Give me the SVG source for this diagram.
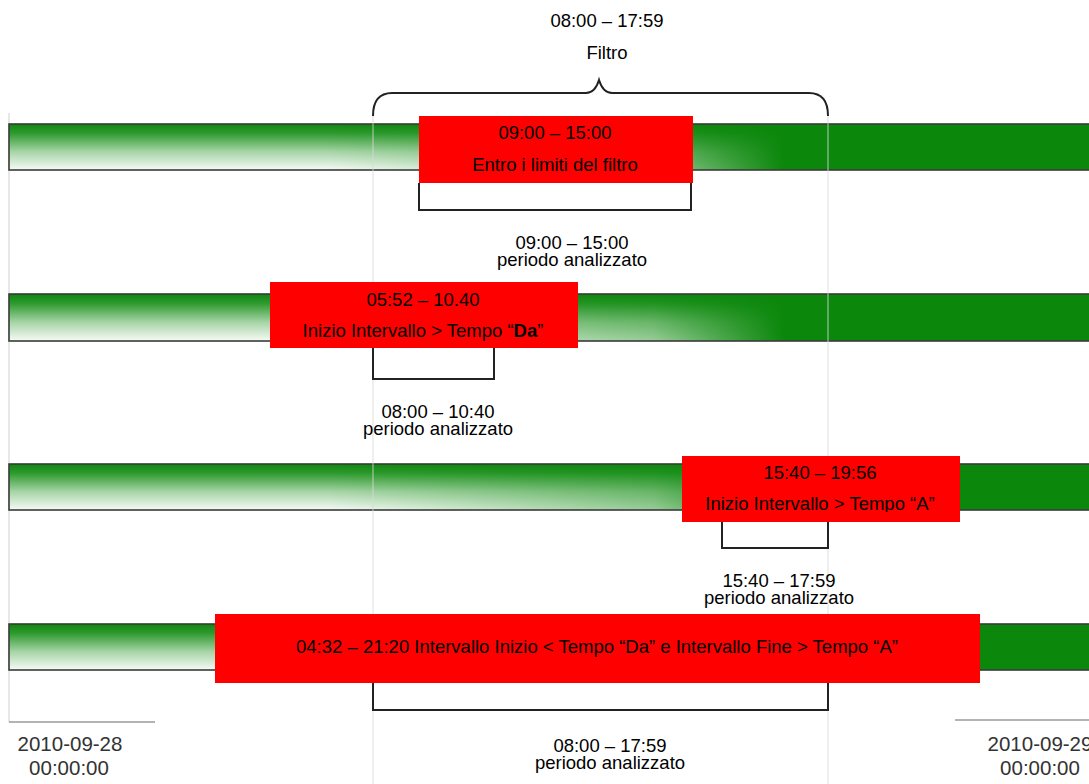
<svg xmlns="http://www.w3.org/2000/svg" width="1089" height="784" viewBox="0 0 1089 784">
<defs>
<linearGradient id="vg" x1="0" y1="0" x2="0" y2="1">
<stop offset="0" stop-color="#0f870f"/>
<stop offset="0.2" stop-color="#2e9a2e"/>
<stop offset="0.6" stop-color="#a6d4a6"/>
<stop offset="1" stop-color="#f6fbf6"/>
</linearGradient>
<linearGradient id="hg" gradientUnits="userSpaceOnUse" x1="0" y1="0" x2="1089" y2="0">
<stop offset="0.3" stop-color="#0b870b" stop-opacity="0"/>
<stop offset="0.6" stop-color="#0b870b" stop-opacity="0.4"/>
<stop offset="0.72" stop-color="#0b870b" stop-opacity="1"/>
<stop offset="1" stop-color="#0b870b" stop-opacity="1"/>
</linearGradient>
<clipPath id="clip3"><rect x="682" y="456" width="278" height="56"/></clipPath>
<style>
.bar{fill:url(#vg);}
.ov{fill:url(#hg);stroke:#3a3a3a;stroke-width:1.6;}
.box{fill:#ff0000;}
.t{font-family:"Liberation Sans",Arial,sans-serif;font-size:18.5px;fill:#000;text-anchor:middle;}
.d{font-family:"Liberation Sans",Arial,sans-serif;font-size:20.5px;fill:#333;text-anchor:middle;}
.grid{stroke:#d8d8d8;stroke-width:1.2;fill:none;}
.base{stroke:#9a9a9a;stroke-width:1.5;fill:none;}
.br{stroke:#222;stroke-width:2;fill:none;}
</style>
</defs>
<rect width="1089" height="784" fill="#fff"/>
<g id="axes">
<line class="grid" x1="9" y1="113" x2="9" y2="722"/>
<line class="base" x1="9" y1="722" x2="155" y2="722"/>
<line class="base" x1="955" y1="720" x2="1089" y2="720"/>
</g>
<g id="bar1"><rect class="bar" x="9" y="124" width="1090" height="46"/><rect class="ov" x="9" y="124" width="1090" height="46"/></g>
<g id="bar2"><rect class="bar" x="9" y="294" width="1090" height="47"/><rect class="ov" x="9" y="294" width="1090" height="47"/></g>
<g id="bar3"><rect class="bar" x="9" y="464" width="1090" height="46"/><rect class="ov" x="9" y="464" width="1090" height="46"/></g>
<g id="bar4"><rect class="bar" x="9" y="624" width="1090" height="46"/><rect class="ov" x="9" y="624" width="1090" height="46"/></g>
<g id="gridlines" opacity="0.7">
<line class="grid" x1="373" y1="116" x2="373" y2="784"/>
<line class="grid" x1="828" y1="116" x2="828" y2="784"/>
</g>
<g id="connectors">
<path class="br" d="M373,116 Q373,93 392,93 L586,93 Q595,93 599,80 Q603,93 612,93 L809,93 Q828,93 828,116"/>
<path class="br" d="M419,183 V210 H691 V183"/>
<path class="br" d="M373,348 V379 H494 V348"/>
<path class="br" d="M722,522 V548 H828 V522"/>
<path class="br" d="M373,683 V710 H828 V683"/>
</g>
<g id="filter-label">
<text class="t" x="607" y="27">08:00 – 17:59</text>
<text class="t" x="607" y="59">Filtro</text>
</g>
<g id="box1">
<rect class="box" x="419" y="116" width="274" height="67"/>
<text class="t" x="555" y="139">09:00 – 15:00</text>
<text class="t" x="555" y="171">Entro i limiti del filtro</text>
</g>
<g id="label1">
<text class="t" x="572" y="249">09:00 – 15:00</text>
<text class="t" x="572" y="266">periodo analizzato</text>
</g>
<g id="box2">
<rect class="box" x="270" y="282" width="308" height="66"/>
<text class="t" x="423" y="306">05:52 – 10.40</text>
<text class="t" x="423" y="337">Inizio Intervallo &gt; Tempo “<tspan font-weight="bold">Da</tspan>”</text>
</g>
<g id="label2">
<text class="t" x="438" y="418">08:00 – 10:40</text>
<text class="t" x="438" y="435">periodo analizzato</text>
</g>
<g id="box3">
<rect class="box" x="682" y="456" width="278" height="66"/>
<text class="t" x="820" y="479">15:40 – 19:56</text>
<text class="t" x="820" y="510" clip-path="url(#clip3)">Inizio Intervallo &gt; Tempo “A”</text>
</g>
<g id="label3">
<text class="t" x="779" y="587">15:40 – 17:59</text>
<text class="t" x="779" y="604">periodo analizzato</text>
</g>
<g id="box4">
<rect class="box" x="215" y="614" width="765" height="69"/>
<text class="t" x="597" y="653">04:32 – 21:20 Intervallo Inizio &lt; Tempo “Da” e Intervallo Fine &gt; Tempo “A”</text>
</g>
<g id="label4">
<text class="t" x="610" y="752">08:00 – 17:59</text>
<text class="t" x="610" y="769">periodo analizzato</text>
</g>
<g id="date-start">
<text class="d" x="70" y="751">2010-09-28</text>
<text class="d" x="69" y="775">00:00:00</text>
</g>
<g id="date-end">
<text class="d" x="1040" y="751">2010-09-29</text>
<text class="d" x="1040" y="775">00:00:00</text>
</g>
</svg>
